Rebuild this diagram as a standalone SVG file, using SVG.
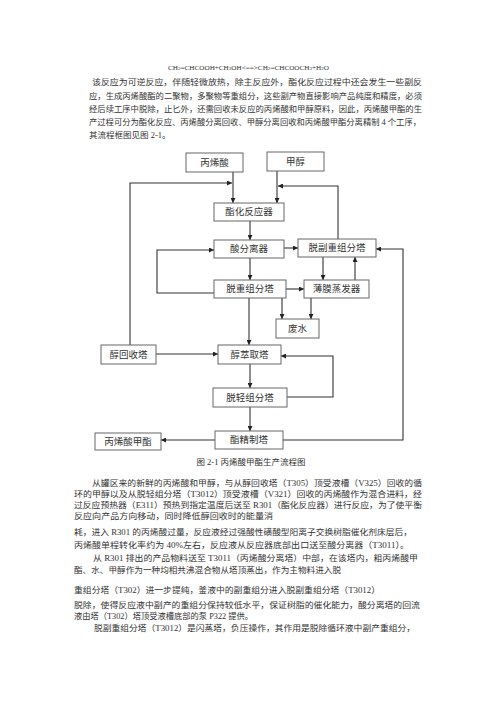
<svg xmlns="http://www.w3.org/2000/svg" width="500" height="707" viewBox="0 0 500 707">
<defs>
<marker id="ah" viewBox="0 0 10 10" refX="10" refY="5" markerWidth="5" markerHeight="5" orient="auto" markerUnits="userSpaceOnUse">
<path d="M0,0 L10,5 L0,10 z" fill="#222"/>
</marker>
<style>
.t{font-family:"Liberation Serif","Noto Sans CJK SC",serif;font-size:8.5px;fill:#333}
.f{font-family:"Liberation Serif","Noto Sans CJK SC",serif;font-size:7px;fill:#333}
.b{fill:#fff;stroke:#666;stroke-width:1}
.bt{font-family:"Liberation Serif","Noto Sans CJK SC",serif;font-size:9.5px;fill:#333;text-anchor:middle;dominant-baseline:central}
.c{fill:none;stroke:#333;stroke-width:1.1}
.a{marker-end:url(#ah)}
</style>
</defs>
<rect width="500" height="707" fill="#fff"/>

<text class="f" x="168" y="70" textLength="161" lengthAdjust="spacingAndGlyphs">CH<tspan font-size="5">2</tspan>=CHCOOH+CH<tspan font-size="5">3</tspan>OH&lt;==&gt;CH<tspan font-size="5">2</tspan>=CHCOOCH<tspan font-size="5">3</tspan>+H<tspan font-size="5">2</tspan>O</text>

<g id="para1">
<text class="t" x="92" y="85" textLength="330" lengthAdjust="spacingAndGlyphs">该反应为可逆反应，伴随轻微放热，除主反应外，酯化反应过程中还会发生一些副反</text>
<text class="t" x="89" y="99" textLength="333" lengthAdjust="spacingAndGlyphs">应，生成丙烯酸酯的二聚物，多聚物等重组分，这些副产物直接影响产品纯度和精度，必须</text>
<text class="t" x="89" y="112" textLength="333" lengthAdjust="spacingAndGlyphs">经后续工序中脱除，止匕外，还需回收未反应的丙烯酸和甲醇原料，因此，丙烯酸甲酯的生</text>
<text class="t" x="89" y="125" textLength="332" lengthAdjust="spacingAndGlyphs">产过程可分为酯化反应、丙烯酸分离回收、甲醇分离回收和丙烯酸甲酯分离精制 4 个工序，</text>
<text class="t" x="89" y="138">其流程框图见图 2-1。</text>
</g>

<g id="connectors">
<line class="c a" x1="233" y1="172" x2="233" y2="203"/>
<line class="c a" x1="277" y1="171" x2="277" y2="203"/>
<polyline class="c a" points="130,345 130,183 232,183"/>
<polyline class="c a" points="338,239 338,186 278,186"/>
<line class="c a" x1="250" y1="221" x2="250" y2="240"/>
<line class="c a" x1="284" y1="248" x2="298" y2="248"/>
<line class="c a" x1="250" y1="258" x2="250" y2="280"/>
<polyline class="c a" points="214,293 157,293 157,250 214,250"/>
<line class="c a" x1="286" y1="289" x2="304" y2="289"/>
<line class="c a" x1="323" y1="257" x2="323" y2="280"/>
<line class="c a" x1="355" y1="280" x2="355" y2="257"/>
<line class="c a" x1="282" y1="298" x2="282" y2="319"/>
<line class="c a" x1="311" y1="298" x2="311" y2="319"/>
<line class="c a" x1="249" y1="298" x2="249" y2="345"/>
<line class="c a" x1="156" y1="354" x2="218" y2="354"/>
<line class="c a" x1="250" y1="364" x2="250" y2="388"/>
<polyline class="c a" points="287,397 333,397 333,356 281,356"/>
<line class="c a" x1="250" y1="407" x2="250" y2="431"/>
<line class="c a" x1="215" y1="440" x2="161" y2="440"/>
<polyline class="c a" points="283,440 403,440 403,249 376,249"/>
</g>

<g id="n-acrylic"><rect class="b" x="186" y="153" width="57" height="19"/><text class="bt" x="214.5" y="162.5">丙烯酸</text></g>
<g id="n-methanol"><rect class="b" x="267" y="152" width="57" height="19"/><text class="bt" x="295.5" y="161.5">甲醇</text></g>
<g id="n-reactor"><rect class="b" x="214" y="203" width="70" height="18"/><text class="bt" x="249" y="212">酯化反应器</text></g>
<g id="n-acidsep"><rect class="b" x="214" y="240" width="70" height="18"/><text class="bt" x="249" y="249">酸分离器</text></g>
<g id="n-subheavy"><rect class="b" x="298" y="239" width="78" height="18"/><text class="bt" x="337" y="248">脱副重组分塔</text></g>
<g id="n-heavy"><rect class="b" x="214" y="280" width="72" height="18"/><text class="bt" x="250" y="289">脱重组分塔</text></g>
<g id="n-film"><rect class="b" x="304" y="280" width="65" height="18"/><text class="bt" x="336.5" y="289">薄膜蒸发器</text></g>
<g id="n-water"><rect class="b" x="276" y="319" width="43" height="19"/><text class="bt" x="297.5" y="328.5">废水</text></g>
<g id="n-alcrec"><rect class="b" x="101" y="345" width="55" height="19"/><text class="bt" x="128.5" y="354.5">醇回收塔</text></g>
<g id="n-alcext"><rect class="b" x="218" y="345" width="63" height="19"/><text class="bt" x="249.5" y="354.5">醇萃取塔</text></g>
<g id="n-light"><rect class="b" x="213" y="388" width="74" height="19"/><text class="bt" x="250" y="397.5">脱轻组分塔</text></g>
<g id="n-refine"><rect class="b" x="215" y="431" width="68" height="18"/><text class="bt" x="249" y="440">酯精制塔</text></g>
<g id="n-product"><rect class="b" x="95" y="433" width="66" height="17"/><text class="bt" x="128" y="441.5">丙烯酸甲酯</text></g>

<text class="t" x="251" y="465" text-anchor="middle" font-size="8">图 2-1 丙烯酸甲酯生产流程图</text>

<g id="para2">
<text class="t" x="92" y="486" textLength="330" lengthAdjust="spacingAndGlyphs">从罐区来的新鲜的丙烯酸和甲醇，与从醇回收塔（T305）顶受液槽（V325）回收的循</text>
<text class="t" x="74" y="497" textLength="348" lengthAdjust="spacingAndGlyphs">环的甲醇以及从脱轻组分塔（T3012）顶受液槽（V321）回收的丙烯酸作为混合进料，经</text>
<text class="t" x="74" y="508" textLength="348" lengthAdjust="spacingAndGlyphs">过反应预热器（E311）预热到指定温度后送至 R301（酯化反应器）进行反应，为了使平衡</text>
<text class="t" x="74" y="519" textLength="199" lengthAdjust="spacingAndGlyphs">反应向产品方向移动，同时降低醇回收时的能量消</text>
<text class="t" x="74" y="535" textLength="338" lengthAdjust="spacingAndGlyphs">耗，进入 R301 的丙烯酸过量，反应液经过强酸性磺酸型阳离子交换树脂催化剂床层后，</text>
<text class="t" x="74" y="548" textLength="335" lengthAdjust="spacingAndGlyphs">丙烯酸单程转化率约为 40%左右，反应液从反应器底部出口送至酸分离器（T3011）。</text>
<text class="t" x="93" y="561" textLength="325" lengthAdjust="spacingAndGlyphs">从 R301 排出的产品物料送至 T3011（丙烯酸分离塔）中部，在该塔内，粗丙烯酸甲</text>
<text class="t" x="74" y="573" textLength="267" lengthAdjust="spacingAndGlyphs">酯、水、甲醇作为一种均相共沸混合物从塔顶蒸出，作为主物料进入脱</text>
<text class="t" x="74" y="593" textLength="306" lengthAdjust="spacingAndGlyphs">重组分塔（T302）进一步提纯，釜液中的副重组分进入脱副重组分塔（T3012）</text>
<text class="t" x="74" y="608" textLength="346" lengthAdjust="spacingAndGlyphs">脱除，使得反应液中副产的重组分保持较低水平，保证树脂的催化能力，酸分离塔的回流</text>
<text class="t" x="74" y="619" textLength="179" lengthAdjust="spacingAndGlyphs">液由塔（T302）塔顶受液槽底部的泵 P322 提供。</text>
<text class="t" x="94" y="631" textLength="321" lengthAdjust="spacingAndGlyphs">脱副重组分塔（T3012）是闪蒸塔，负压操作，其作用是脱除循环液中副产重组分，</text>
</g>
</svg>
